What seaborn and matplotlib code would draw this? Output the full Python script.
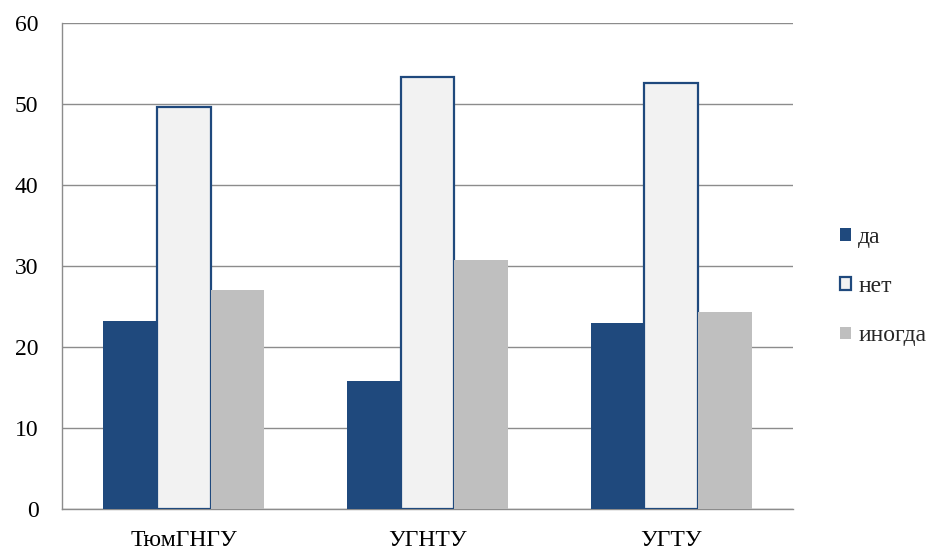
import matplotlib
matplotlib.use("Agg")
import matplotlib.pyplot as plt
from matplotlib.patches import Patch
import seaborn as sns
import pandas as pd

universities = ["ТюмГНГУ", "УГНТУ", "УГТУ"]
answers = ["да", "нет", "иногда"]
da = [23.2, 15.8, 23.0]
net = [49.6, 53.4, 52.6]
inogda = [27.0, 30.7, 24.3]
y_ticks = [0, 10, 20, 30, 40, 50, 60]

df = pd.DataFrame({
    "univ": universities * 3,
    "answer": [a for a in answers for _ in universities],
    "value": da + net + inogda,
})

dark_blue = "#1F497D"
light = "#F2F2F2"
grey = "#BFBFBF"
palette = {"да": dark_blue, "нет": light, "иногда": grey}

sns.set_style("white")
plt.rcParams["font.family"] = ["Liberation Serif", "DejaVu Serif"]

fig = plt.figure(figsize=(9.33, 5.49), dpi=100)
ax = fig.add_axes([0.0665, 0.073, 0.7835, 0.885])

sns.barplot(data=df, x="univ", y="value", hue="answer", order=universities,
            hue_order=answers, palette=palette, width=0.66, saturation=1,
            ax=ax, legend=False, zorder=3)

for cont, name in zip(ax.containers, answers):
    for bar in cont:
        if name == "нет":
            bar.set_edgecolor(dark_blue)
            bar.set_linewidth(1.6)
        else:
            bar.set_edgecolor(palette[name])
            bar.set_linewidth(0)

ax.set_ylim(0, 60)
ax.set_yticks(y_ticks)
ax.set_xlim(-0.5, 2.5)
ax.grid(axis="y", color="#8C8C8C", linewidth=1.0, zorder=0)
ax.set_axisbelow(True)
for s in ["top", "right"]:
    ax.spines[s].set_visible(False)
for s in ["left", "bottom"]:
    ax.spines[s].set_color("#8C8C8C")
    ax.spines[s].set_linewidth(1.0)
ax.tick_params(axis="y", length=0, pad=17, labelsize=17, colors="black")
ax.tick_params(axis="x", length=0, pad=15, labelsize=17, colors="black")
ax.set_xlabel("")
ax.set_ylabel("")

handles = [
    Patch(facecolor=dark_blue, edgecolor=dark_blue, linewidth=0),
    Patch(facecolor=light, edgecolor=dark_blue, linewidth=1.6),
    Patch(facecolor=grey, edgecolor=grey, linewidth=0),
]
fig.legend(handles, answers, loc="center left", bbox_to_anchor=(0.878, 0.478),
           frameon=False, fontsize=17, handlelength=0.45, handleheight=0.45,
           handletextpad=0.3, labelspacing=1.2)

fig.savefig("out.png", dpi=100)
